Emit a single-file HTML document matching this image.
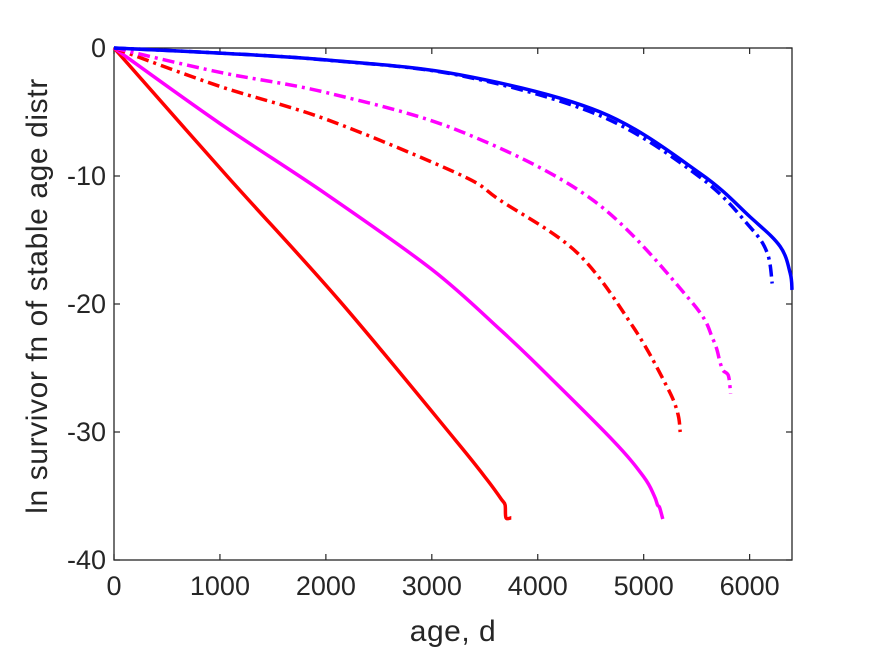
<!DOCTYPE html>
<html><head><meta charset="utf-8"><style>
html,body{margin:0;padding:0;background:#fff;}
svg{display:block;font-family:"Liberation Sans",Arial,sans-serif;}
</style></head><body>
<svg id="chart" width="875" height="656" viewBox="0 0 875 656" xmlns="http://www.w3.org/2000/svg">
<rect width="875" height="656" fill="#fff"/>
<g id="axes"></g>
<g id="lines"></g>
<text x="453" y="641" font-size="30" letter-spacing="0.5" text-anchor="middle" fill="#262626">age, d</text>
<text transform="translate(47,296) rotate(-90)" font-size="30" letter-spacing="0.6" text-anchor="middle" fill="#262626">ln survivor fn of stable age distr</text>
</svg>
<script>
const xTicks=[0,1000,2000,3000,4000,5000,6000];
const yTicks=[0,-10,-20,-30,-40];
const redSolidX=[0,1067,2124,3220,3500,3600,3660,3692,3700,3750];
const redSolidY=[0,-10,-19.7,-30.6,-33.5,-34.6,-35.3,-35.7,-36.7,-36.7];
const magSolidX=[0,1000,2000,3000,3645,4000,4703,5000,5100,5130,5150,5180];
const magSolidY=[0,-5.9,-11.4,-17.3,-22,-24.8,-30.6,-33.5,-35,-35.7,-35.9,-36.8];
const redDashX=[0,1000,2013,3267,3645,4372,4901,5222,5320,5345];
const redDashY=[0,-3.0,-5.6,-9.9,-11.9,-16,-21.8,-26.5,-28.5,-30];
const magDashX=[0,1000,2013,3267,4523,5439,5656,5722,5750,5800,5820];
const magDashY=[0,-1.9,-3.5,-6.5,-11.9,-19.7,-22.8,-24.6,-25.2,-25.6,-27];
const blueSolidX=[0,1000,2013,3267,4590,5533,6005,6288,6383,6400];
const blueSolidY=[0,-0.4,-0.94,-2.1,-5.0,-9.8,-13.2,-15.5,-17.6,-18.9];
const blueDashX=[0,1000,2013,3267,4590,5533,6005,6166,6213];
const blueDashY=[0,-0.4,-0.95,-2.15,-5.3,-10.1,-14,-16,-18.4];

const L=114,R=792,T=48,B=560,XMAX=6400,YMIN=-40;
const sx=v=>L+v/XMAX*(R-L);
const sy=v=>T+(0-v)/(0-YMIN)*(B-T);
const NS='http://www.w3.org/2000/svg';
const ax=document.getElementById('axes');
const ln=document.getElementById('lines');
function mk(tag,attrs,parent){const e=document.createElementNS(NS,tag);for(const k in attrs)e.setAttribute(k,attrs[k]);parent.appendChild(e);return e;}

const box=mk('rect',{x:L,y:T,width:R-L,height:B-T,fill:'none',stroke:'#262626','stroke-width':1.3},ax);


xTicks.forEach(t=>{
  const x=sx(t);
  const a=mk('line',{x1:x,x2:x,y1:B,y2:B-6,stroke:'#262626','stroke-width':1.2},ax);
  
  
  const b=mk('line',{x1:x,x2:x,y1:T,y2:T+6,stroke:'#262626','stroke-width':1.2},ax);
  
  
  const tx=mk('text',{x:x,y:B+35,'font-size':27,'text-anchor':'middle',fill:'#262626'},ax);
  tx.textContent=t;
  
  
});
yTicks.forEach(t=>{
  const y=sy(t);
  const a=mk('line',{x1:L,x2:L+6,y1:y,y2:y,stroke:'#262626','stroke-width':1.2},ax);
  
  
  const b=mk('line',{x1:R,x2:R-6,y1:y,y2:y,stroke:'#262626','stroke-width':1.2},ax);
  
  
  const tx=mk('text',{x:L-8,y:y+9,'font-size':27,'text-anchor':'end',fill:'#262626'},ax);
  tx.textContent=t;
  
  
});
function pathD(xs,ys){
  const P=xs.map((x,i)=>[sx(x),sy(ys[i])]);
  let d='M'+P[0][0].toFixed(1)+','+P[0][1].toFixed(1);
  for(let i=0;i<P.length-1;i++){
    const p0=P[Math.max(0,i-1)],p1=P[i],p2=P[i+1],p3=P[Math.min(P.length-1,i+2)];
    const c1=[p1[0]+(p2[0]-p0[0])/6,p1[1]+(p2[1]-p0[1])/6];
    const c2=[p2[0]-(p3[0]-p1[0])/6,p2[1]-(p3[1]-p1[1])/6];
    d+=' C'+c1.map(v=>v.toFixed(1)).join(',')+' '+c2.map(v=>v.toFixed(1)).join(',')+' '+p2.map(v=>v.toFixed(1)).join(',');
  }
  return d;
}
function series(xs,ys,color,dash,name){
  const p=mk('path',{d:pathD(xs,ys),fill:'none',stroke:color,'stroke-width':3.5,'stroke-linejoin':'round'},ln);
  if(dash)p.setAttribute('stroke-dasharray',dash);
  
  
}
series(redSolidX,redSolidY,'#ff0000',null,'red-solid-line');
series(magSolidX,magSolidY,'#ff00ff',null,'magenta-solid-line');
series(redDashX,redDashY,'#ff0000','12 5 3 5','red-dashdot-line');
series(magDashX,magDashY,'#ff00ff','12 5 3 5','magenta-dashdot-line');
series(blueDashX,blueDashY,'#0000ff','12 5 3 5','blue-dashdot-line');
series(blueSolidX,blueSolidY,'#0000ff',null,'blue-solid-line');
</script>
</body></html>
